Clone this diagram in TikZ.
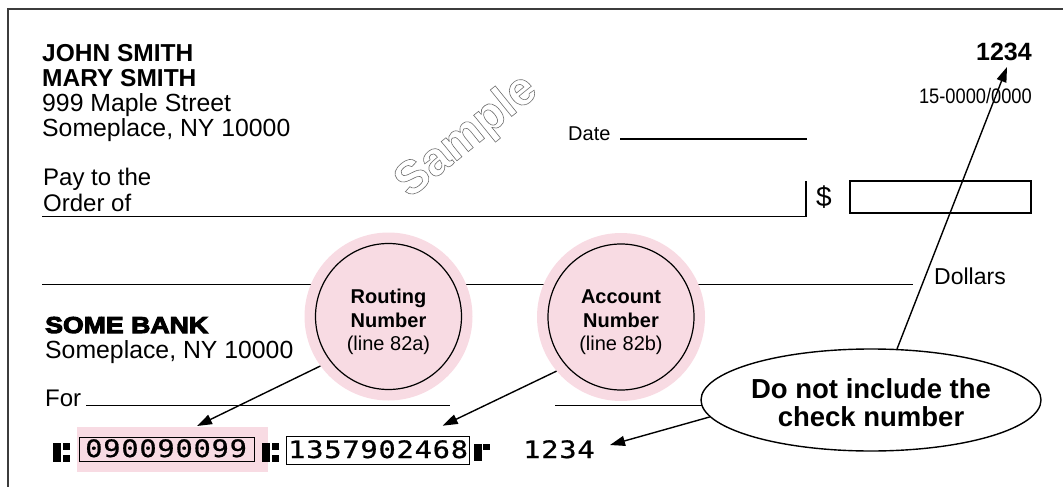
\documentclass[tikz,border=0pt]{standalone}
\usepackage{fontspec}
\setmainfont{Liberation Sans}
\newfontfamily\heavyfont[FakeBold=4.5,FakeStretch=1.16]{Liberation Sans Bold}
\newfontfamily\narrowfont[FakeStretch=0.87]{Liberation Sans}
\newfontfamily\micrfont[FakeStretch=1.2,FakeBold=0.7,LetterSpace=3]{DejaVu Sans Mono}
\usetikzlibrary{arrows.meta,shapes.geometric}
\definecolor{pinkbg}{RGB}{248,219,227}
\definecolor{bordergray}{RGB}{60,60,60}
\definecolor{samplegray}{RGB}{110,110,110}
\newcommand{\outlinetext}[1]{\special{pdf:literal direct 1 Tr 0.6 w}#1\special{pdf:literal direct 0 Tr}}
\begin{document}
\begin{tikzpicture}[x=1pt,y=-1pt,
  txt/.style={inner sep=0pt, anchor=base west},
  ctxt/.style={inner sep=0pt, anchor=base},
  rtxt/.style={inner sep=0pt, anchor=base east},
  rule/.style={line width=1.3pt},
  arr/.style={line width=1.4pt,-{Triangle[length=15pt,width=10pt]}},
  outerdisc/.style={circle, fill=pinkbg, minimum size=168pt, inner sep=0pt},
  innerring/.style={circle, draw, line width=1.2pt, minimum size=146pt, inner sep=0pt},
  micrbox/.style={draw, line width=1pt}
]
\useasboundingbox (0,0) rectangle (1063,487);
% border
\draw[line width=2pt, bordergray] (8,487) -- (8,9) -- (1063,9);

% owner
\node[txt, font=\fontsize{24.5}{24.5}\selectfont\bfseries] (john) at (42,62) {JOHN SMITH};
\node[txt, font=\fontsize{24.5}{24.5}\selectfont\bfseries] (mary) at (42,87) {MARY SMITH};
\node[txt, font=\fontsize{24.8}{24.8}\selectfont] (street) at (42,111.7) {999 Maple Street};
\node[txt, font=\fontsize{24.8}{24.8}\selectfont] (city) at (42,136.7) {Someplace, NY 10000};

% check number
\node[rtxt, font=\fontsize{25}{25}\selectfont\bfseries] (chknum) at (1032,60) {1234};
\node[rtxt, font=\fontsize{21}{21}\selectfont\narrowfont] (fraction) at (1032,103) {15-0000/0000};

% sample
\node[inner sep=0pt, rotate=39, font=\fontsize{47}{47}\selectfont\bfseries, text=samplegray] (sample) at (467,137)
  {\outlinetext{Sample}};

% date
\node[txt, font=\fontsize{20}{20}\selectfont] (date) at (568,140) {Date};
\draw[rule] (620,139) -- (807,139);

% pay to
\node[txt, font=\fontsize{24}{24}\selectfont] (pay) at (43,185) {Pay to the};
\node[txt, font=\fontsize{24}{24}\selectfont] (order) at (43,211.7) {Order of};
\draw[rule] (42,216.5) -- (806,216.5) -- (806,181);
\node[txt, font=\fontsize{28}{28}\selectfont] (dollar) at (816,206) {\$};
\draw[rule] (850,181) rectangle (1031,213);

% dollars line
\draw[rule] (42,284.5) -- (913,284.5);
\node[txt, font=\fontsize{23}{23}\selectfont] (dollars) at (934,284) {Dollars};

% bank
\node[txt, font=\fontsize{23}{23}\selectfont\heavyfont] (bank) at (45,333) {SOME BANK};
\node[txt, font=\fontsize{24.8}{24.8}\selectfont] (bankcity) at (45,358) {Someplace, NY 10000};

% for line and signature line
\node[txt, font=\fontsize{24}{24}\selectfont] (for) at (45,406) {For};
\draw[rule] (86,405.5) -- (450,405.5);
\draw[rule] (555,405.5) -- (1000,405.5);

% circles
\node[outerdisc] (routO) at (388.5,316.5) {};
\node[innerring] (routI) at (routO) {};
\node[ctxt, font=\fontsize{20}{20}\selectfont\bfseries] (rt1) at (388.5,303) {Routing};
\node[ctxt, font=\fontsize{20}{20}\selectfont\bfseries] (rt2) at (388.5,327) {Number};
\node[ctxt, font=\fontsize{20}{20}\selectfont] (rt3) at (388.5,350) {(line 82a)};

\node[outerdisc] (accO) at (621,317) {};
\node[innerring] (accI) at (accO) {};
\node[ctxt, font=\fontsize{20}{20}\selectfont\bfseries] (at1) at (621,303) {Account};
\node[ctxt, font=\fontsize{20}{20}\selectfont\bfseries] (at2) at (621,327) {Number};
\node[ctxt, font=\fontsize{20}{20}\selectfont] (at3) at (621,350) {(line 82b)};

% MICR line
\fill[pinkbg] (77,427) rectangle (268,472);
\fill (53,443) rectangle (61,462);
\fill (62.5,443) rectangle (69.5,450);
\fill (62.5,455) rectangle (69.5,462);
\draw[micrbox] (79,437) rectangle (254,461);
\node[txt, font=\fontsize{24}{24}\selectfont\micrfont] (routnum) at (85,457) {090090099};
\fill (262,443) rectangle (270,462);
\fill (271.5,443) rectangle (278.5,450);
\fill (271.5,455) rectangle (278.5,462);
\draw[micrbox] (286,436) rectangle (469,464);
\node[txt, font=\fontsize{24}{24}\selectfont\micrfont] (accnum) at (288,458) {1357902468};
\fill (474,444) rectangle (482,461);
\fill (483,444) rectangle (490,450);
\node[txt, font=\fontsize{24}{24}\selectfont\micrfont] (micrchk) at (523,458) {1234};

% note ellipse
\node[ellipse, draw, fill=white, line width=1.4pt, minimum width=340pt, minimum height=102pt, inner sep=0pt] (note) at (871,400) {};
\node[ctxt, font=\fontsize{27.5}{27.5}\selectfont\bfseries] (n1) at (871,398) {Do not include the};
\node[ctxt, font=\fontsize{27.5}{27.5}\selectfont\bfseries] (n2) at (871,426) {check number};

% arrows
\coordinate (rtip) at (197,426);
\coordinate (atip) at (442.7,425.7);
\coordinate (ctip) at (1007,67);
\coordinate (mtip) at (610,445);
\draw[arr] (routO.216) -- (rtip);
\draw[arr] (accO.220) -- (atip);
\draw[arr] (note.63) -- (ctip);
\draw[arr] (note.186.5) -- (mtip);
\end{tikzpicture}
\end{document}
